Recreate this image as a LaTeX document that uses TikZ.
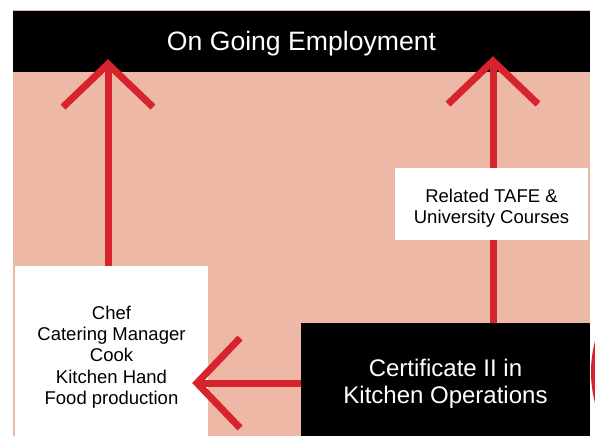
\documentclass[tikz,border=0pt]{standalone}
\usepackage{fontspec}
\setmainfont{Liberation Sans}
\usetikzlibrary{arrows.meta}
\definecolor{salmon}{HTML}{EDB9A6}
\definecolor{arrowred}{HTML}{D7232D}
\newcommand{\toplift}[1]{\rule{0pt}{#1}}

\begin{document}
\begin{tikzpicture}
[x=1pt,y=-1pt,
blackbox/.style={fill=black,text=white,align=center,inner sep=0pt},
whitebox/.style={fill=white,text=black,align=center,inner sep=0pt,font=\fontsize{18.5}{21.3}\selectfont},
bigarrow/.style={draw=arrowred,line width=7pt,-{Straight Barb[length=43pt,width=90pt,line cap=butt,line join=miter]}}]

\clip (0,0) rectangle (595,436);
\fill[salmon] (13,10) rectangle (590,436);
\fill[arrowred] (712,372) circle (121);

\node[blackbox,minimum width=577pt,minimum height=61pt,font=\fontsize{26.6}{30}\selectfont] (employ) at (301.5,41.5) {\toplift{23.5pt}On Going Employment};
\node[blackbox,minimum width=289pt,minimum height=113pt,font=\fontsize{24}{26.5}\selectfont] (cert) at (445.5,379.5) {\toplift{26pt}Certificate II in\\Kitchen Operations};
\node[whitebox,minimum width=193pt,minimum height=170pt] (jobs) at (111.5,351) {\toplift{25.5pt}Chef\\Catering Manager\\Cook\\Kitchen Hand\\Food production};
\node[whitebox,minimum width=193pt,minimum height=72pt] (tafe) at (491.5,204) {\toplift{21.5pt}Related TAFE \&\\University Courses};

% pathways
\draw[bigarrow,shorten >=-13pt] ([xshift=-3.5pt]jobs.north) -- ([xshift=-3.5pt]jobs.north |- employ.south);
\draw[draw=arrowred,line width=7pt] ([xshift=1.5pt]tafe.south |- cert.north) -- ([xshift=1.5pt]tafe.south);
\draw[bigarrow,shorten >=-16pt] ([xshift=1.5pt]tafe.north) -- ([xshift=1.5pt]tafe.north |- employ.south);
\draw[bigarrow,shorten >=-16pt] ([yshift=-3.5pt]cert.west) -- ([yshift=-3.5pt]cert.west -| jobs.east);
\end{tikzpicture}
\end{document}
